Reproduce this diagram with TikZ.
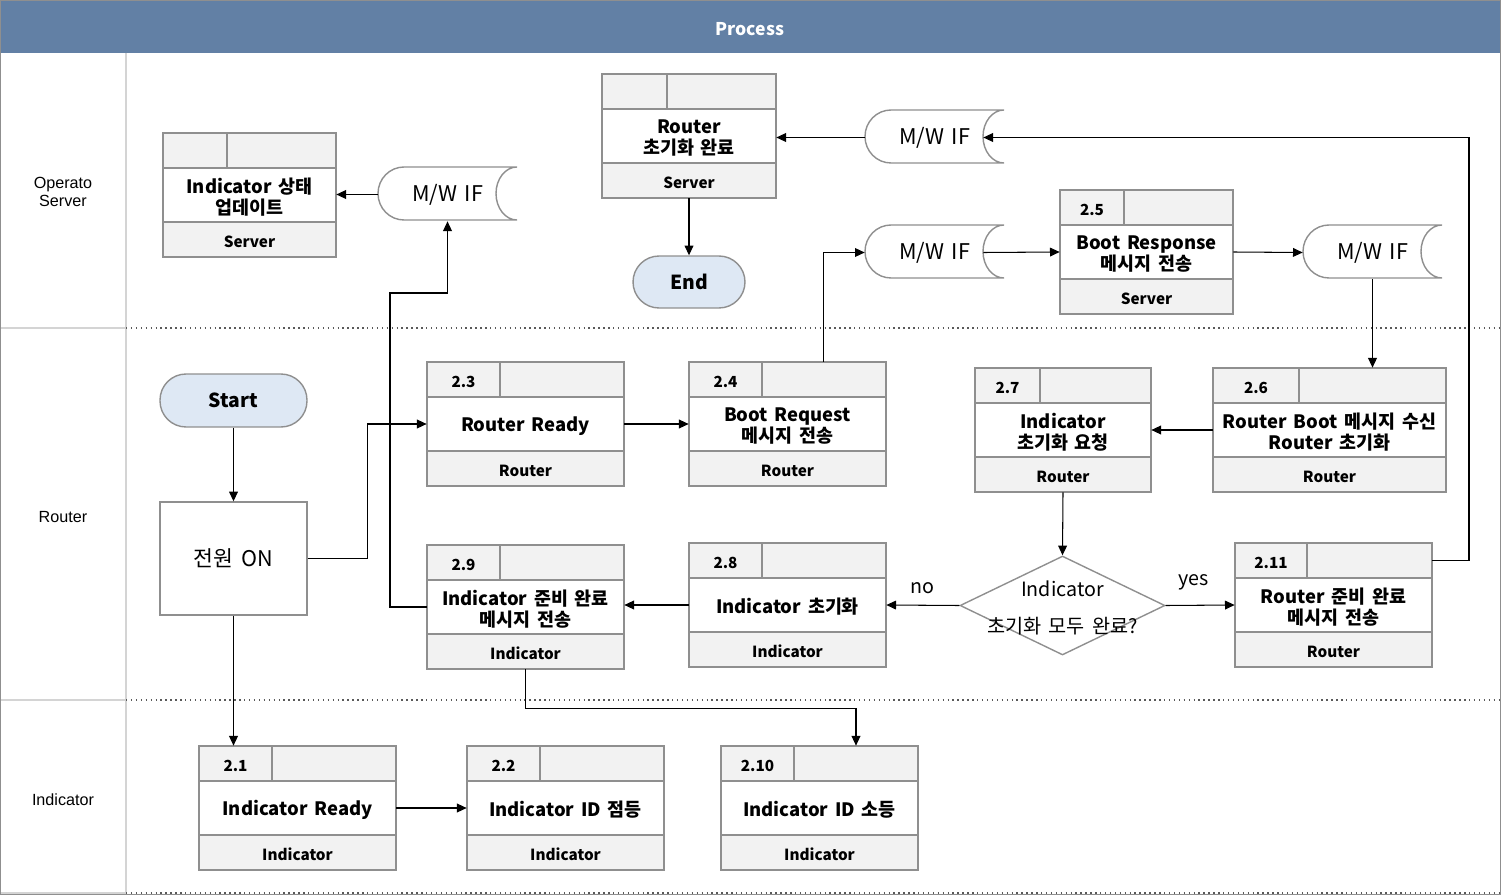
\documentclass[tikz,border=0pt]{standalone}
\usepackage{fontspec}
\setmainfont[WordSpace=1.6]{Noto Sans CJK KR}
\newfontfamily\lanefont{Liberation Sans}
\usetikzlibrary{arrows.meta,shapes.geometric,fit}

\definecolor{headblue}{HTML}{6280A5}
\definecolor{cellgray}{HTML}{F2F2F2}
\definecolor{framegray}{HTML}{8F8F8F}
\definecolor{lanegray}{HTML}{D4D4D4}
\definecolor{termblue}{HTML}{DEE8F4}

\tikzset{
	boxline/.style={draw=framegray, line width=0.8pt},
	conn/.style={->, black, line width=0.6pt},
	titletext/.style={font=\bfseries\fontsize{10.5}{11.9}\selectfont, align=center},
	smalltext/.style={font=\bfseries\fontsize{8.7}{10}\selectfont},
	mwtext/.style={font=\fontsize{12.3}{14}\selectfont},
	labeltext/.style={font=\fontsize{11.2}{13}\selectfont},
	terminal/.style={draw=framegray, line width=0.8pt, fill=termblue, rounded corners=0.52cm, inner sep=0pt, font=\bfseries\fontsize{11}{13}\selectfont},
	lanesep/.style={draw=black!65, dash pattern=on 0.8pt off 2pt, line width=0.8pt},
	lanetext/.style={font=\lanefont\fontsize{9.2}{10.4}\selectfont, align=center},
}

% process box: name, left, top, width, number cell width, number, title, actor
\newcommand{\procbox}[8]{
	\fill[cellgray] (#2,#3) rectangle ++(#4,35);
	\fill[cellgray] (#2,#3+89) rectangle ++(#4,35);
	\draw[boxline] (#2,#3) rectangle ++(#4,124);
	\draw[boxline] (#2,#3+35) -- ++(#4,0);
	\draw[boxline] (#2,#3+89) -- ++(#4,0);
	\draw[boxline] (#2+#5,#3) -- ++(0,35);
	\node[smalltext] at (#2+#5/2,#3+19.5) {#6};
	\node[titletext] at (#2+#4/2,#3+64) {#7};
	\node[smalltext] at (#2+#4/2,#3+108.5) {#8};
	\coordinate (#1-nw) at (#2,#3);
	\coordinate (#1-se) at (#2+#4,#3+124);
	\coordinate (#1-te) at (#2+#4,#3+17.5);
	\node[fit=(#1-nw)(#1-se), inner sep=0pt] (#1) {};
}

% stored data (M/W IF): name, left, top
\newcommand{\mwif}[3]{
	\draw[boxline, fill=white] (#2+26,#3) -- (#2+139,#3)
		arc[start angle=270, end angle=90, x radius=21, y radius=26.5]
		-- (#2+26,#3+53)
		arc[start angle=90, end angle=270, x radius=26, y radius=26.5] -- cycle;
	\node[mwtext, minimum width=2.78cm, minimum height=1.06cm, inner sep=0pt] (#1) at (#2+69.5,#3+27.5) {M/W IF};
}

\begin{document}
\begin{tikzpicture}[x=0.02cm, y=-0.02cm, >={Triangle[length=5.5pt,width=5pt]}]
	\useasboundingbox (0,0) rectangle (1501,895);
	%lanes
	\fill[headblue] (0,0) rectangle (1501,53);
	\node[white, font=\bfseries\fontsize{10}{12}\selectfont] (title) at (750,29) {Process};
	\draw[lanegray, line width=0.8pt] (126,53) -- (126,895);
	\draw[lanegray, line width=0.8pt] (0,328) -- (126,328);
	\draw[lanegray, line width=0.8pt] (0,700) -- (126,700);
	\draw[lanegray, line width=0.8pt] (0,893) -- (126,893);
	\draw[lanesep] (126,328) -- (1501,328);
	\draw[lanesep] (126,700) -- (1501,700);
	\draw[lanesep] (126,893) -- (1501,893);
	\draw[framegray, line width=0.8pt] (0.5,0.5) rectangle (1500.5,894.5);
	\node[lanetext] (laneS) at (63,192) {Operato\\Server};
	\node[lanetext] (laneR) at (63,517) {Router};
	\node[lanetext] (laneI) at (63,800) {Indicator};

	%server lane
	\procbox{pUpd}{163}{133}{173}{64}{}{Indicator 상태\\업데이트}{Server}
	\procbox{pDone}{602}{74}{174}{65}{}{Router\\초기화 완료}{Server}
	\procbox{p25}{1060}{190}{173}{64}{2.5}{Boot Response\\메시지 전송}{Server}
	\mwif{mwA}{378}{167}
	\mwif{mwB}{865}{110}
	\mwif{mwC}{865}{225}
	\mwif{mwD}{1303}{225}
	\node[terminal, minimum width=2.24cm, minimum height=1.04cm] (endn) at (689,282) {End};

	%router lane
	\node[terminal, minimum width=2.94cm, minimum height=1.06cm] (start) at (233.5,400.5) {Start};
	\node[boxline, minimum width=2.94cm, minimum height=2.26cm, inner sep=0pt, mwtext] (pwr) at (233.5,558.5) {전원 ON};
	\procbox{p23}{427}{362}{197}{73}{2.3}{Router Ready}{Router}
	\procbox{p24}{689}{362}{197}{73}{2.4}{Boot Request\\메시지 전송}{Router}
	\procbox{p27}{975}{368}{176}{65}{2.7}{Indicator\\초기화 요청}{Router}
	\procbox{p26}{1213}{368}{233}{86}{2.6}{Router Boot 메시지 수신\\Router 초기화}{Router}
	\procbox{p29}{427}{545}{197}{73}{2.9}{Indicator 준비 완료\\메시지 전송}{Indicator}
	\procbox{p28}{689}{543}{197}{73}{2.8}{Indicator 초기화}{Indicator}
	\procbox{p211}{1235}{543}{197}{72}{2.11}{Router 준비 완료\\메시지 전송}{Router}
	\node[diamond, boxline, minimum width=4.1cm, minimum height=1.98cm, inner sep=0pt] (dec) at (1062.5,605.5) {};
	\node[labeltext, align=center] (dectext) at (1062.5,607.5) {Indicator\\[8pt]초기화 모두 완료?};

	%indicator lane
	\procbox{p21}{199}{746}{197}{73}{2.1}{Indicator Ready}{Indicator}
	\procbox{p22}{467}{746}{197}{73}{2.2}{Indicator ID 점등}{Indicator}
	\procbox{p210}{721}{746}{197}{73}{2.10}{Indicator ID 소등}{Indicator}

	%connectors
	\draw[conn] (start) -- (pwr);
	\draw[conn] (pwr.east) -- ++(60,0) |- (p23.west);
	\draw[conn] (pwr.south) -- (pwr.south |- p21.north);
	\draw[conn] (p21.east) -- (p22.west);
	\draw[conn] (p23.east) -- (p24.west);
	\draw[conn] ([xshift=0.72cm]p24.north) |- (mwC.west);
	\draw[conn] ([xshift=-0.42cm]mwC.east) -- (p25.west);
	\draw[conn] (p25.east) -- (mwD.west);
	\draw[conn] (mwD.south) -- (mwD.south |- p26.north);
	\draw[conn] (p26.west) -- (p27.east);
	\draw[conn] (p27.south) -- (dec.north);
	\draw[conn] (dec.west) -- node[above=3pt, labeltext] {no} (p28.east);
	\draw[conn] (dec.east) -- node[above=5pt, pos=0.4, labeltext] {yes} (p211.west);
	\draw[conn] (p28.west) -- (p28.west -| p29.east);
	\coordinate (bendA) at (390,293);
	\draw[conn] (p29.west) -| (bendA) -| (mwA.south);
	\draw[conn] (mwA.west) -- (mwA.west -| pUpd.east);
	\draw[conn] (p211-te) -- ++(37,0) |- ([xshift=-0.42cm]mwB.east);
	\draw[conn] (mwB.west) -- (mwB.west -| pDone.east);
	\draw[conn] (pDone.south) -- (endn.north);
	\draw[conn] (p29.south) -- ++(0,39) -| ([xshift=0.73cm]p210.north);
\end{tikzpicture}
\end{document}
